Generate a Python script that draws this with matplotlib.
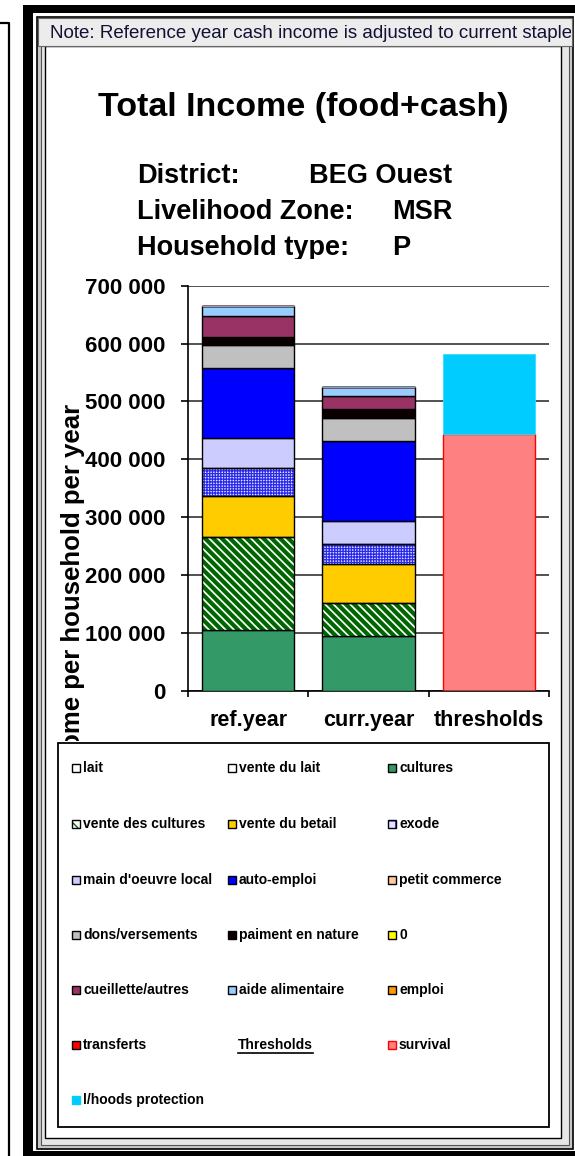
import matplotlib
matplotlib.use("Agg")
import matplotlib.pyplot as plt
from matplotlib.patches import Rectangle
from matplotlib.lines import Line2D
from matplotlib.transforms import Bbox, TransformedBbox
import numpy as np

W, H = 575, 1156

categories = ["ref.year", "curr.year", "thresholds"]

# income sources, bottom to top of the stack
lait = [0, 0, 0]
vente_du_lait = [0, 0, 0]
cultures = [105000, 94500, 0]
vente_des_cultures = [161000, 57500, 0]
vente_du_betail = [71000, 67000, 0]
exode = [48500, 34500, 0]
main_oeuvre_local = [50500, 40500, 0]
auto_emploi = [121000, 138000, 0]
petit_commerce = [0, 0, 0]
dons_versements = [40500, 40000, 0]
paiment_en_nature = [14500, 15000, 0]
zero_source = [0, 0, 0]
cueillette_autres = [35500, 22500, 0]
aide_alimentaire = [18000, 16000, 0]
emploi = [0, 0, 0]
transferts = [0, 0, 0]

# thresholds
survival = [0, 0, 443500]
protection = [0, 0, 138500]

yticks = [0, 100000, 200000, 300000, 400000, 500000, 600000, 700000]

plt.rcParams['font.family'] = ['Liberation Sans Narrow', 'Liberation Sans', 'DejaVu Sans']


def fx(x):
    return x / W


def fy(y):
    return 1 - y / H


fig = plt.figure(figsize=(W / 100, H / 100), dpi=100)


def rect(x0, y0, x1, y1, **kw):
    r = Rectangle((fx(x0), fy(y1)), fx(x1) - fx(x0), fy(y0) - fy(y1),
                  transform=fig.transFigure, **kw)
    fig.add_artist(r)
    return r


def clip_px(x0, y0, x1, y1):
    return TransformedBbox(Bbox.from_extents(fx(x0), fy(y1), fx(x1), fy(y0)), fig.transFigure)


# frames around the chart
fig.add_artist(Line2D([fx(0), fx(9), fx(9)], [fy(23), fy(23), fy(1160)],
                      transform=fig.transFigure, color="black", lw=1.6, zorder=0.5))
rect(23, 5, 580, 1156, facecolor="black", edgecolor="none", zorder=0.5)
rect(33, 13, 580, 1151, facecolor="white", edgecolor="none", zorder=0.5)
rect(37, 17, 573, 1149, facecolor="#c8c8c8", edgecolor="black", lw=1.2, zorder=0.5)
rect(41, 46, 569, 1145, facecolor="#e6e6e6", edgecolor="#555555", lw=0.8, zorder=0.5)
rect(45, 46, 561, 1138, facecolor="white", edgecolor="black", lw=1.0, zorder=0.5)
# note bar
rect(38, 18, 572, 46, facecolor="#ececec", edgecolor="#666666", lw=0.8, zorder=0.5)
note = fig.text(fx(50), fy(33), "Note: Reference year cash income is adjusted to current staple food prices",
                fontsize=13.5, color="#111133", va="center", ha="left")
note.set_clip_box(clip_px(38, 18, 571, 46))

# titles
fig.text(fx(303), fy(116), "Total Income (food+cash)", fontsize=24.5, fontweight="bold",
         ha="center", va="baseline")
info = [("District:", "BEG Ouest", 183, 309),
        ("Livelihood Zone:", "MSR", 219, 392),
        ("Household type:", "P", 255, 392)]
for lab, val, yb, xv in info:
    t1 = fig.text(fx(137), fy(yb), lab, fontsize=19.5, fontweight="bold", va="baseline")
    t2 = fig.text(fx(xv), fy(yb), val, fontsize=19.5, fontweight="bold", va="baseline")
    for t in (t1, t2):
        t.set_clip_box(clip_px(0, 0, W, 259))

# chart
ax = fig.add_axes([fx(188), fy(690.7), fx(549) - fx(188), fy(285.7) - fy(690.7)])
ax.set_zorder(2)
ax.set_facecolor("none")
x = np.arange(len(categories))
bw = 0.77

series = [
    ("lait", lait, "white", None, None),
    ("vente du lait", vente_du_lait, "white", None, None),
    ("cultures", cultures, "#339966", None, None),
    ("vente des cultures", vente_des_cultures, "white", "\\\\\\\\", "#006600"),
    ("vente du betail", vente_du_betail, "#ffcc00", None, None),
    ("exode", exode, "#e4e4ff", "++++++", "#2a2aee"),
    ("main d'oeuvre local", main_oeuvre_local, "#ccccff", None, None),
    ("auto-emploi", auto_emploi, "#0000ff", None, None),
    ("petit commerce", petit_commerce, "#ffcc99", None, None),
    ("dons/versements", dons_versements, "#c0c0c0", None, None),
    ("paiment en nature", paiment_en_nature, "#0a0000", None, None),
    ("0", zero_source, "#ffff00", None, None),
    ("cueillette/autres", cueillette_autres, "#993366", None, None),
    ("aide alimentaire", aide_alimentaire, "#99ccff", None, None),
    ("emploi", emploi, "#ff9900", None, None),
    ("transferts", transferts, "#ff0000", None, None),
]

hatch_lw = {"\\\\\\\\": 3.0, "++++++": 0.9}

bottom = np.zeros(len(categories))
for name, vals, col, hatch, hcol in series:
    vals = np.array(vals, dtype=float)
    if hatch:
        with plt.rc_context({"hatch.linewidth": hatch_lw[hatch]}):
            bars = ax.bar(x, vals, bw, bottom=bottom, color=col, hatch=hatch,
                          edgecolor=hcol, linewidth=0, zorder=3)
            for b in bars:
                if hasattr(b, "set_hatch_linewidth"):
                    b.set_hatch_linewidth(hatch_lw[hatch])
        ax.bar(x, vals, bw, bottom=bottom, fill=False, edgecolor="black", linewidth=1.0, zorder=4)
    else:
        ax.bar(x, vals, bw, bottom=bottom, color=col, edgecolor="black", linewidth=1.0, zorder=3)
    bottom += vals

ax.bar(x, survival, bw, bottom=bottom, color="#ff8080", edgecolor="#ff0000", linewidth=1.0, zorder=3)
bottom += np.array(survival, dtype=float)
ax.bar(x, protection, bw, bottom=bottom, color="#00ccff", edgecolor="#33ddff", linewidth=0.6, zorder=3)

ax.set_xlim(-0.5, 2.5)
ax.set_ylim(0, 700000)
ax.set_yticks(yticks)
ax.set_yticklabels([f"{v:,}".replace(",", " ") for v in yticks], fontsize=16, fontweight="bold")
ax.set_xticks(x)
ax.set_xticklabels(categories, fontsize=15.5, fontweight="bold")
ax.set_xticks([-0.5, 0.5, 1.5, 2.5], minor=True)
ax.tick_params(axis="x", which="major", length=0, pad=14)
ax.tick_params(axis="x", which="minor", length=4, width=1.2, direction="out")
ax.tick_params(axis="y", length=5, width=1.2, direction="out", pad=11)
ax.yaxis.grid(True, color="#222222", lw=1.1, zorder=0)
ax.set_axisbelow(True)
for s in ("top", "right"):
    ax.spines[s].set_visible(False)
ax.spines["left"].set_linewidth(1.2)
ax.spines["bottom"].set_linewidth(1.2)

ylab = fig.text(fx(73), fy(404), "Income per household per year", rotation=90,
                fontsize=18.5, fontweight="bold", ha="center", va="top")
ylab.set_clip_box(clip_px(0, 0, W, 741))

# legend
rect(58, 743, 549, 1127, facecolor="white", edgecolor="black", lw=1.3, zorder=1)
col_x = [72, 228, 388]
row_y = [768, 824, 880, 935, 990, 1045, 1100]
entries = [(s[0], s[2], s[3], s[4]) for s in series]
entries = entries[:16] + [("Thresholds", None, None, None),
                          ("survival", "#ff8080", None, "#ff0000"),
                          ("l/hoods protection", "#00ccff", None, None)]
for i, (name, col, hatch, hcol) in enumerate(entries):
    cx = col_x[i % 3]
    cy = row_y[i // 3]
    if col is None:
        t = fig.text(fx(cx + 10), fy(cy), name, fontsize=10, fontweight="bold", va="center")
        fig.canvas.draw()
        bb = t.get_window_extent()
        fig.add_artist(Line2D([bb.x0 / W, bb.x1 / W], [fy(cy + 8)] * 2,
                              transform=fig.transFigure, color="black", lw=1.2))
        continue
    if hatch:
        rect(cx, cy - 4, cx + 8, cy + 4, facecolor=col, hatch=hatch[:2], edgecolor=hcol, lw=0, zorder=2)
        rect(cx, cy - 4, cx + 8, cy + 4, fill=False, edgecolor="black", lw=1.0, zorder=2)
    else:
        ec = "black" if hcol is None else hcol
        if name == "l/hoods protection":
            ec = col
        rect(cx, cy - 4, cx + 8, cy + 4, facecolor=col, edgecolor=ec, lw=1.0, zorder=2)
    fig.text(fx(cx + 11), fy(cy), name, fontsize=10, fontweight="bold", va="center")

fig.savefig("out.png", dpi=100)
